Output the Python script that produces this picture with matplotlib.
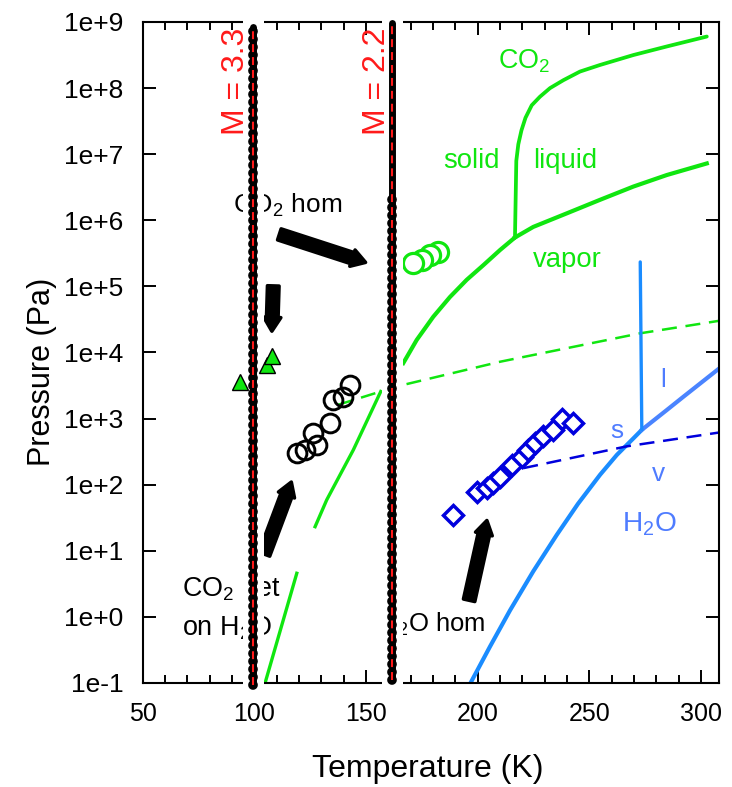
import numpy as np
import matplotlib
matplotlib.use('Agg')
import matplotlib.pyplot as plt
from matplotlib import font_manager as fm
from matplotlib.ticker import NullLocator

# ---------------- data (T in K, pressures as log10(Pa)) ----------------
m_line_T = [99.5, 161.8]
m_line_labels = ['M = 3.3', 'M = 2.2']
m_line_top = [8.93, 8.98]
m_line_bottom = [-1.03, -0.95]
m_line_bump_top = [8.93, 6.38]
m_label_T = [92.0, 155.1]

co2_sub_low_T = [104.8, 119.0, np.nan, 127.2, 132.4, 144.3, 156.6]
co2_sub_low_logP = [-1.0, 0.66, np.nan, 1.365, 1.77, 2.525, 3.41]
co2_sub_T = [166.7, 172.7, 180.1, 187.6, 195.1, 202.5, 210.0, 216.7]
co2_sub_logP = [3.84, 4.19, 4.54, 4.84, 5.10, 5.32, 5.55, 5.74]
co2_melt_T = [216.7, 217.3, 218.2, 219.6, 221.4, 224.2, 227.9, 232.4, 238.4, 245.8, 254.8,
              269.7, 284.7, 302.6]
co2_melt_logP = [5.74, 6.90, 7.15, 7.36, 7.55, 7.74, 7.87, 8.00, 8.12, 8.25, 8.35,
                 8.50, 8.63, 8.78]
co2_lv_T = [216.7, 224.9, 239.9, 254.8, 269.7, 284.7, 302.6]
co2_lv_logP = [5.74, 5.90, 6.105, 6.31, 6.51, 6.685, 6.86]
co2_dash_T = [137.6, 156.6, 166.7, 210.0, 272.7, 308.2]
co2_dash_logP = [3.21, 3.41, 3.51, 3.86, 4.29, 4.48]

h2o_ice_T = [196.8, 205.5, 214.5, 224.9, 235.4, 244.9, 254.8, 262.3, 269.7, 273.5]
h2o_ice_logP = [-1.0, -0.45, 0.10, 0.69, 1.24, 1.71, 2.15, 2.45, 2.70, 2.83]
h2o_liq_T = [273.5, 284.7, 292.1, 308.2]
h2o_liq_logP = [2.83, 3.13, 3.33, 3.76]
h2o_melt_T = [272.8, 273.5]
h2o_melt_logP = [5.37, 2.83]
h2o_dash_T = [220.4, 266.7, 308.2]
h2o_dash_logP = [2.25, 2.58, 2.79]

h2o_hom_T = [189.1, 199.6, 204.1, 207.0, 210.0, 215.2, 219.7, 222.7, 225.7, 229.4, 233.9, 237.6, 242.8]
h2o_hom_logP = [1.54, 1.89, 1.95, 2.02, 2.12, 2.30, 2.42, 2.52, 2.63, 2.73, 2.83, 3.00, 2.93]

co2_het_T = [119.0, 122.7, 126.4, 127.9, 133.9, 135.4, 139.8, 142.8]
co2_het_logP = [2.475, 2.525, 2.78, 2.60, 2.93, 3.28, 3.33, 3.51]

co2_hom_T = [182.4, 178.7, 174.9, 171.2]
co2_hom_logP = [5.52, 5.47, 5.40, 5.35]

tri_T = [93.6, 105.5, 107.8]
tri_logP = [3.56, 3.81, 3.94]

arrow_tail_T = [110.0, 108.5, 104.0, 195.9]
arrow_tail_logP = [5.80, 5.05, 0.91, 0.21]
arrow_head_T = [151.0, 107.8, 117.0, 204.4]
arrow_head_logP = [5.35, 4.28, 2.08, 1.50]

xticks = [50, 100, 150, 200, 250, 300]
yticks_exp = list(range(-1, 10))
ytick_labels = ['1e-1', '1e+0', '1e+1', '1e+2', '1e+3', '1e+4', '1e+5', '1e+6', '1e+7', '1e+8', '1e+9']

# ---------------- fonts ----------------
names = {f.name for f in fm.fontManager.ttflist}
narrow = 'Liberation Sans Narrow' if 'Liberation Sans Narrow' in names else None
base = 'Liberation Sans'
plt.rcParams['font.family'] = [base, 'DejaVu Sans']
plt.rcParams['mathtext.default'] = 'regular'
NF = [narrow or base, 'DejaVu Sans']
sc = 1.0 if narrow else 0.9

GREEN = '#10e610'
BLUE = '#1a8cff'
BLUE2 = '#4a84ff'
LBLUE = '#4f7cff'
DBLUE = '#0000dd'

fig = plt.figure(figsize=(7.32, 7.87), dpi=100)
ax = fig.add_axes([0.19495, 0.13215, 0.78770, 0.83990])
ax.set_yscale('log')
ax.set_xlim(50, 308.2)
ax.set_ylim(1e-1, 1e9)

P = lambda a: 10.0 ** np.asarray(a, dtype=float)

# CO2 phase lines
ax.plot(co2_sub_low_T, P(co2_sub_low_logP), color=GREEN, lw=2.4, zorder=2)
ax.plot(co2_sub_T, P(co2_sub_logP), color=GREEN, lw=3.0, zorder=2, solid_joinstyle='round')
ax.plot(co2_melt_T, P(co2_melt_logP), color=GREEN, lw=2.7, zorder=2,
        solid_capstyle='round', solid_joinstyle='round')
ax.plot(co2_lv_T, P(co2_lv_logP), color=GREEN, lw=3.0, zorder=2, solid_joinstyle='round')
ax.plot(co2_dash_T, P(co2_dash_logP), color=GREEN, lw=1.8, ls=(0, (6, 3.5)), zorder=2)

# H2O phase lines
ax.plot(h2o_ice_T, P(h2o_ice_logP), color=BLUE, lw=3.0, zorder=2, solid_joinstyle='round')
ax.plot(h2o_liq_T, P(h2o_liq_logP), color=BLUE2, lw=3.0, zorder=2, solid_joinstyle='round')
ax.plot(h2o_melt_T, P(h2o_melt_logP), color=BLUE, lw=2.4, zorder=2, solid_capstyle='round')
ax.plot(h2o_dash_T, P(h2o_dash_logP), color=DBLUE, lw=1.8, ls=(0, (6, 3.5)), zorder=2)

# markers
ax.plot(h2o_hom_T, P(h2o_hom_logP), ls='none', marker='D', ms=9.8, mew=2.5,
        mec=DBLUE, mfc='white', zorder=2.2)
ax.plot(co2_het_T, P(co2_het_logP), ls='none', marker='o', ms=13.5, mew=2.1,
        mec='black', mfc='none', zorder=2.2)
ax.plot(co2_hom_T, P(co2_hom_logP), ls='none', marker='o', ms=14.5, mew=2.3,
        mec=GREEN, mfc='white', zorder=2.2)
ax.plot(tri_T, P(tri_logP), ls='none', marker='^', ms=11, mew=1.0,
        mec='black', mfc=GREEN, zorder=3.5)

# arrows
for t0, p0, t1, p1 in zip(arrow_tail_T, arrow_tail_logP, arrow_head_T, arrow_head_logP):
    ax.annotate('', xy=(t1, 10 ** p1), xytext=(t0, 10 ** p0),
                arrowprops=dict(arrowstyle='simple,head_length=0.5,head_width=0.62,tail_width=0.42',
                                fc='black', ec='black', lw=2.5, joinstyle='round',
                                capstyle='round', shrinkA=2, shrinkB=2, mutation_scale=20),
                zorder=2.7)

# text labels
def txt(x, lp, s, c, size, z=2.8, fam=NF):
    ax.text(x, 10 ** lp, s, color=c, fontsize=size * sc, ha='left', va='baseline',
            family=fam, zorder=z)

txt(90.4, 6.11, 'CO$_2$ hom', 'black', 21)
txt(67.5, 0.306, 'CO$_2$ het', 'black', 21.5)
txt(67.5, -0.274, 'on H$_2$O', 'black', 21.5)
txt(156.0, -0.224, 'H$_2$O hom', 'black', 20.5)
txt(209.1, 8.30, 'CO$_2$', GREEN, 21.5)
txt(184.5, 6.79, 'solid', GREEN, 22)
txt(224.8, 6.79, 'liquid', GREEN, 22)
txt(224.9, 5.30, 'vapor', GREEN, 22)
txt(281.7, 3.48, 'l', LBLUE, 21)
txt(259.4, 2.71, 's', LBLUE, 21)
txt(277.9, 2.05, 'v', LBLUE, 21)
txt(264.5, 1.29, 'H$_2$O', LBLUE, 22.5)

# white masking bands and the M lines
for T, top, bot, btop, lab, lt in zip(m_line_T, m_line_top, m_line_bottom,
                                      m_line_bump_top, m_line_labels, m_label_T):
    band = ax.axvspan(T - 4.8, T + 4.8, ymin=-0.006, ymax=1.006, color='white',
                      lw=0, zorder=3)
    band.set_clip_on(False)
    ax.plot([T, T], [10 ** bot, 10 ** top], color='black', lw=5.0,
            solid_capstyle='round', zorder=4, clip_on=False)
    ax.plot([T, T], [10 ** bot, 10 ** btop], color='black', lw=7.0,
            ls=(0, (0.01, 0.8)), dash_capstyle='round', zorder=4, clip_on=False)
    ax.plot([T, T], [10 ** bot, 10 ** top], color='#ff1a1a', lw=1.5,
            ls=(0, (3.8, 2.4)), zorder=5, clip_on=False)
    ax.text(lt, 10 ** 8.92, lab, rotation=90, ha='center', va='top',
            color='#ff1a1a', fontsize=23, zorder=6)

# axes styling
for s in ax.spines.values():
    s.set_linewidth(1.5)
ax.set_xticks(xticks)
ax.set_xticks(np.arange(50, 310, 10), minor=True)
ax.set_xticklabels([str(v) for v in xticks], family=NF, fontsize=20 * sc)
ax.set_yticks([10.0 ** e for e in yticks_exp])
ax.set_yticklabels(ytick_labels, fontsize=19)
ax.yaxis.set_minor_locator(NullLocator())
ax.tick_params(which='major', direction='in', length=9.5, width=1.4,
               top=True, right=True)
ax.tick_params(which='minor', direction='in', length=5.8, width=1.4,
               top=True, right=True)
ax.tick_params(axis='y', pad=14)
ax.tick_params(axis='x', pad=13.5)

ax.set_xlabel('Temperature (K)', fontsize=23)
ax.xaxis.set_label_coords(0.495, -0.107)
ax.set_ylabel('Pressure (Pa)', fontsize=22)
ax.yaxis.set_label_coords(-0.149, 0.4705)

fig.savefig('out.png', dpi=100)
